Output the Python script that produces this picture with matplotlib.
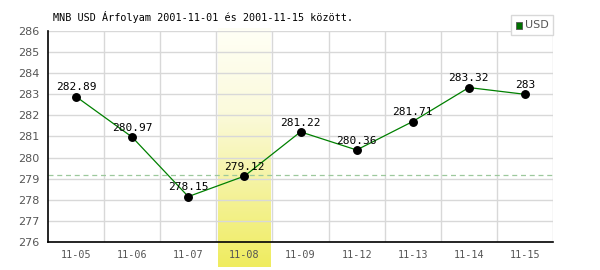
import numpy as np
import matplotlib.pyplot as plt
from matplotlib.colors import LinearSegmentedColormap
from matplotlib.patches import Rectangle

dates = ["11-05", "11-06", "11-07", "11-08", "11-09", "11-12", "11-13", "11-14", "11-15"]
rates = [282.89, 280.97, 278.15, 279.12, 281.22, 280.36, 281.71, 283.32, 283.00]
labels = ["282.89", "280.97", "278.15", "279.12", "281.22", "280.36", "281.71", "283.32", "283"]
ref_level = 279.15
highlight = 3

fig = plt.figure(figsize=(6, 2.7), dpi=100)
ax = fig.add_axes([0.08, 0.104, 0.8417, 0.781])

x = np.arange(len(dates))

# highlighted day: vertical gradient, runs below the axis
cmap = LinearSegmentedColormap.from_list(
    "hl", [(0, "#fffff6"), (0.35, "#fbfadc"), (0.65, "#f5f3a2"), (1, "#efec5f")])
grad = np.linspace(0, 1, 256).reshape(-1, 1)
ax.imshow(grad, cmap=cmap, aspect="auto", origin="upper",
          extent=[highlight - 0.47, highlight + 0.47, 274.8, 286.1],
          clip_on=False, zorder=0)
ax.set_xlim(-0.5, len(dates) - 0.5)
ax.set_ylim(276, 286)

for v in range(276, 287):
    ax.axhline(v, color="#d8d8d8", lw=1, zorder=1)
for b in np.arange(0.5, len(dates), 1.0):
    ax.axvline(b, color="#d8d8d8", lw=1, zorder=1)

ax.axhline(ref_level, color="#9cc89c", lw=0.9, ls=(0, (4, 3)), zorder=2)

ax.plot(x, rates, color="#008000", lw=0.9, zorder=3)
ax.plot(x, rates, "o", color="black", ms=5.4, zorder=4)

for xi, yi, t in zip(x, rates, labels):
    ax.annotate(t, (xi, yi), xytext=(0, 3), textcoords="offset points",
                ha="center", va="bottom", fontsize=8, family="DejaVu Sans Mono",
                zorder=5)

ax.set_xticks(x)
ax.set_xticklabels(dates, family="DejaVu Sans Mono", fontsize=7.3, color="#555555")
ax.set_yticks(range(276, 287))
ax.tick_params(axis="y", labelsize=8, labelcolor="#555555", length=0, pad=6)
ax.tick_params(axis="x", length=0, pad=6)

for s in ["top", "right"]:
    ax.spines[s].set_visible(False)
ax.spines["left"].set_linewidth(1.2)
ax.spines["bottom"].set_linewidth(1.2)
ax.spines["left"].set_zorder(6)
ax.spines["bottom"].set_zorder(6)

fig.text(53 / 600, 1 - 17 / 270, "MNB USD Árfolyam 2001-11-01 és 2001-11-15 között.",
         family="DejaVu Sans Mono", fontsize=7.3, ha="left", va="center")

# legend box
fig.patches.append(Rectangle((511 / 600, 1 - 35 / 270), 42 / 600, 20 / 270,
                             transform=fig.transFigure, facecolor="white",
                             edgecolor="#d8d8d8", lw=1, zorder=10))
fig.patches.append(Rectangle((516 / 600, 1 - 28.5 / 270), 6 / 600, 6 / 270,
                             transform=fig.transFigure, facecolor="#007000",
                             edgecolor="#555555", lw=0.6, zorder=11))
fig.text(525 / 600, 1 - 25.5 / 270, "USD", fontsize=8, color="#555555",
         ha="left", va="center", zorder=12)

fig.savefig("out.png", dpi=100)
